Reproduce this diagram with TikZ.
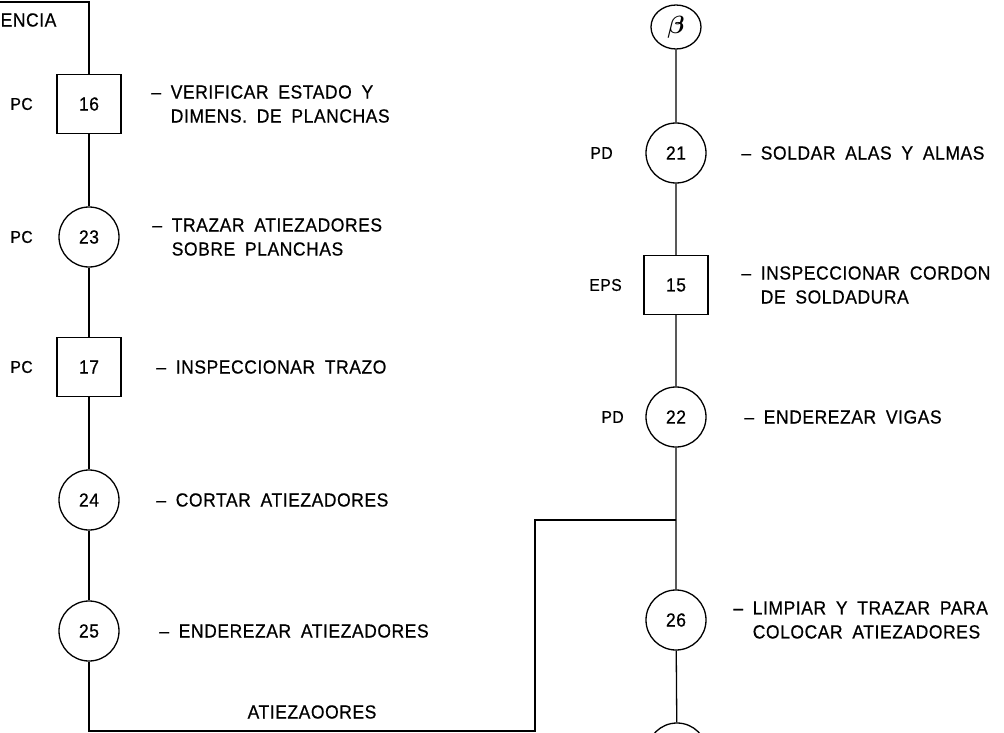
\documentclass[tikz,border=0pt]{standalone}
\usepackage{fontspec}
\usepackage{bm}
\setmainfont{Liberation Sans}[FakeStretch=0.92, FakeBold=0.6, WordSpace=1.8, LetterSpace=3]
\usetikzlibrary{positioning, shapes.geometric}

\tikzset{
  caja/.style={draw, rectangle, minimum width=64pt, minimum height=59pt, inner sep=0pt, font=\fontsize{19}{21}\selectfont},
  circulo/.style={draw, circle, minimum size=60pt, inner sep=0pt, font=\fontsize{19}{21}\selectfont},
  letra/.style={draw, ellipse, minimum width=50pt, minimum height=44pt, inner sep=0pt, font=\fontsize{30}{32}\selectfont},
  etiqueta/.style={inner sep=0pt, font=\fontsize{17}{19}\selectfont},
  desc/.style={inner sep=0pt, anchor=west, align=left, font=\fontsize{19}{24}\selectfont},
}

\begin{document}
\begin{tikzpicture}[x=1pt, y=-1pt, line width=1.3pt]
        \useasboundingbox (0,0) rectangle (1004,733);
        \clip (0,0) rectangle (1004,733);

        % Columna izquierda
        \coordinate (izq) at (0,2);
        \coordinate (arr) at (89,2);
        \node[desc] at (0,20) {ENCIA};
        \node[caja] (b16) at (89,104) {16};
        \node[circulo] (c23) at (89,237) {23};
        \node[caja] (b17) at (89,367) {17};
        \node[circulo] (c24) at (89,500) {24};
        \node[circulo] (c25) at (89,631) {25};

        \node[etiqueta, left=23pt of b16] {PC};
        \node[etiqueta, left=25pt of c23] {PC};
        \node[etiqueta, left=23pt of b17] {PC};

        \node[desc, right=29pt of b16] {\textendash\ VERIFICAR ESTADO Y\\\hphantom{\textendash\ }DIMENS. DE PLANCHAS};
        \node[desc, right=32pt of c23] {\textendash\ TRAZAR ATIEZADORES\\\hphantom{\textendash\ }SOBRE PLANCHAS};
        \node[desc, right=34pt of b17] {\textendash\ INSPECCIONAR TRAZO};
        \node[desc, right=36pt of c24] {\textendash\ CORTAR ATIEZADORES};
        \node[desc, right=39pt of c25] {\textendash\ ENDEREZAR ATIEZADORES};

        \draw (izq) -- (arr) -- (b16) -- (c23) -- (b17) -- (c24) -- (c25);

        % Columna derecha
        \node[letra] (cb) at (676,27) {$\bm{\beta}$};
        \node[circulo] (c21) at (676,153) {21};
        \node[caja] (b15) at (676,285) {15};
        \node[circulo] (c22) at (676,417) {22};
        \node[circulo] (c26) at (676,620) {26};
        \node[circulo] (c27) at (677,753) {};

        \node[etiqueta, left=32pt of c21] {PD};
        \node[etiqueta, left=21pt of b15] {EPS};
        \node[etiqueta, left=21pt of c22] {PD};

        \node[desc, right=34pt of c21] {\textendash\ SOLDAR ALAS Y ALMAS};
        \node[desc, right=32pt of b15] {\textendash\ INSPECCIONAR CORDON\\\hphantom{\textendash\ }DE SOLDADURA};
        \node[desc, right=37pt of c22] {\textendash\ ENDEREZAR VIGAS};
        \node[desc, right=26pt of c26] {\textendash\ LIMPIAR Y TRAZAR PARA\\\hphantom{\textendash\ }COLOCAR ATIEZADORES};

        \draw (cb) -- (c21) -- (b15) -- (c22) -- (c26) -- (c27);

        % Union de atiezadores
        \coordinate (esq) at (89,731);
        \coordinate (baja) at (535,731);
        \coordinate (sube) at (535,520);
        \coordinate (union) at (676,520);
        \draw (c25) -- (esq) -- (baja) -- (sube) -- (union);
        \node[desc, anchor=center] (atz) at (312,712) {ATIEZAOORES};
\end{tikzpicture}
\end{document}
